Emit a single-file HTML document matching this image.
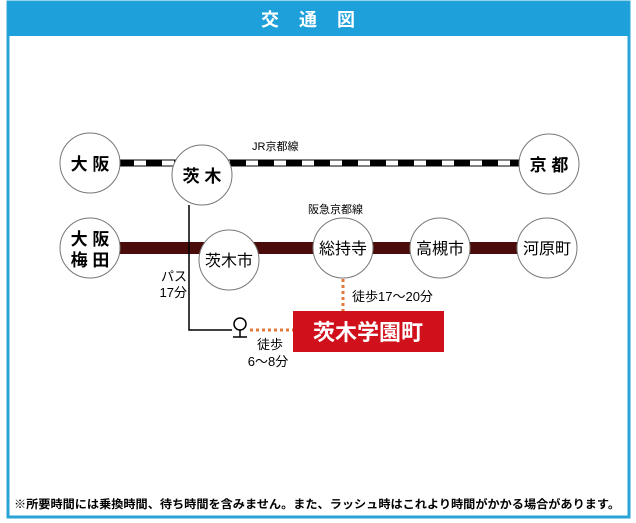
<!DOCTYPE html>
<html><head><meta charset="utf-8"><style>
html,body{margin:0;padding:0;background:#fff;}
body{width:636px;height:523px;overflow:hidden;position:relative;font-family:"Liberation Sans","Noto Sans CJK JP",sans-serif;}
</style></head><body>
<svg width="636" height="523" viewBox="0 0 636 523" xmlns="http://www.w3.org/2000/svg" style="position:absolute;left:0;top:0" font-family="Liberation Sans, Noto Sans CJK JP, sans-serif">
<rect x="0" y="0" width="636" height="523" fill="#fff"/>
<rect x="8" y="2" width="621" height="515" fill="#fff" stroke="#2aa3d6" stroke-width="3"/>
<rect x="8" y="2" width="621" height="34" fill="#1ea0da"/>
<text x="318" y="26" text-anchor="middle" font-size="18" font-weight="bold" fill="#fff" letter-spacing="20">交通図</text>
<!-- JR line -->
<rect x="118" y="160" width="402" height="6" fill="#fff" stroke="#000" stroke-width="1"/>
<line x1="118" y1="163" x2="520" y2="163" stroke="#000" stroke-width="5" stroke-dasharray="16 12"/>
<text x="252" y="150" font-size="11" fill="#000">JR京都線</text>
<!-- Hankyu line -->
<rect x="118" y="242" width="402" height="12" fill="#4a0c0a"/>
<text x="308" y="213" font-size="11" fill="#000">阪急京都線</text>
<!-- bus line -->
<polyline points="189,205 189,330 232,330" fill="none" stroke="#000" stroke-width="1.5"/>
<circle cx="240" cy="324" r="6" fill="#fff" stroke="#000" stroke-width="1.5"/>
<line x1="240" y1="330" x2="240" y2="337" stroke="#000" stroke-width="1.5"/>
<line x1="233" y1="337" x2="247" y2="337" stroke="#000" stroke-width="1.5"/>
<line x1="250" y1="330" x2="293" y2="330" stroke="#e07a3a" stroke-width="3" stroke-dasharray="3 3"/>
<line x1="343" y1="279" x2="343" y2="311" stroke="#e07a3a" stroke-width="3" stroke-dasharray="3 3"/>
<!-- circles -->
<g fill="#fff" stroke="#777" stroke-width="1">
<circle cx="90" cy="163" r="30"/>
<circle cx="202" cy="175" r="30"/>
<circle cx="549" cy="164" r="30"/>
<circle cx="90" cy="248" r="30"/>
<circle cx="229" cy="260" r="30"/>
<circle cx="343" cy="248" r="30"/>
<circle cx="440" cy="248" r="30"/>
<circle cx="547" cy="248" r="30"/>
</g>
<g font-size="17" fill="#000" text-anchor="middle" font-weight="bold">
<text x="90" y="170">大 阪</text>
<text x="202" y="182">茨 木</text>
<text x="549" y="171">京 都</text>
<text x="90" y="245">大 阪</text>
<text x="90" y="266">梅 田</text>
</g>
<g font-size="16" fill="#000" text-anchor="middle">
<text x="229" y="266">茨木市</text>
<text x="343" y="254">総持寺</text>
<text x="440" y="254">高槻市</text>
<text x="547" y="254">河原町</text>
</g>
<g font-size="13" fill="#000">
<text x="352" y="301">徒歩17〜20分</text>
<text x="187" y="281" text-anchor="end">パス</text>
<text x="187" y="297" text-anchor="end">17分</text>
<text x="270" y="349" text-anchor="middle">徒歩</text>
<text x="268" y="366" text-anchor="middle">6〜8分</text>
</g>
<rect x="293" y="311" width="151" height="41" fill="#d0101a"/>
<text x="368" y="340" text-anchor="middle" font-size="22" font-weight="bold" fill="#fff">茨木学園町</text>
<text x="14" y="508" font-size="11.5" font-weight="bold" fill="#000" textLength="606" lengthAdjust="spacingAndGlyphs">※所要時間には乗換時間、待ち時間を含みません。また、ラッシュ時はこれより時間がかかる場合があります。</text>
</svg>
</body></html>
